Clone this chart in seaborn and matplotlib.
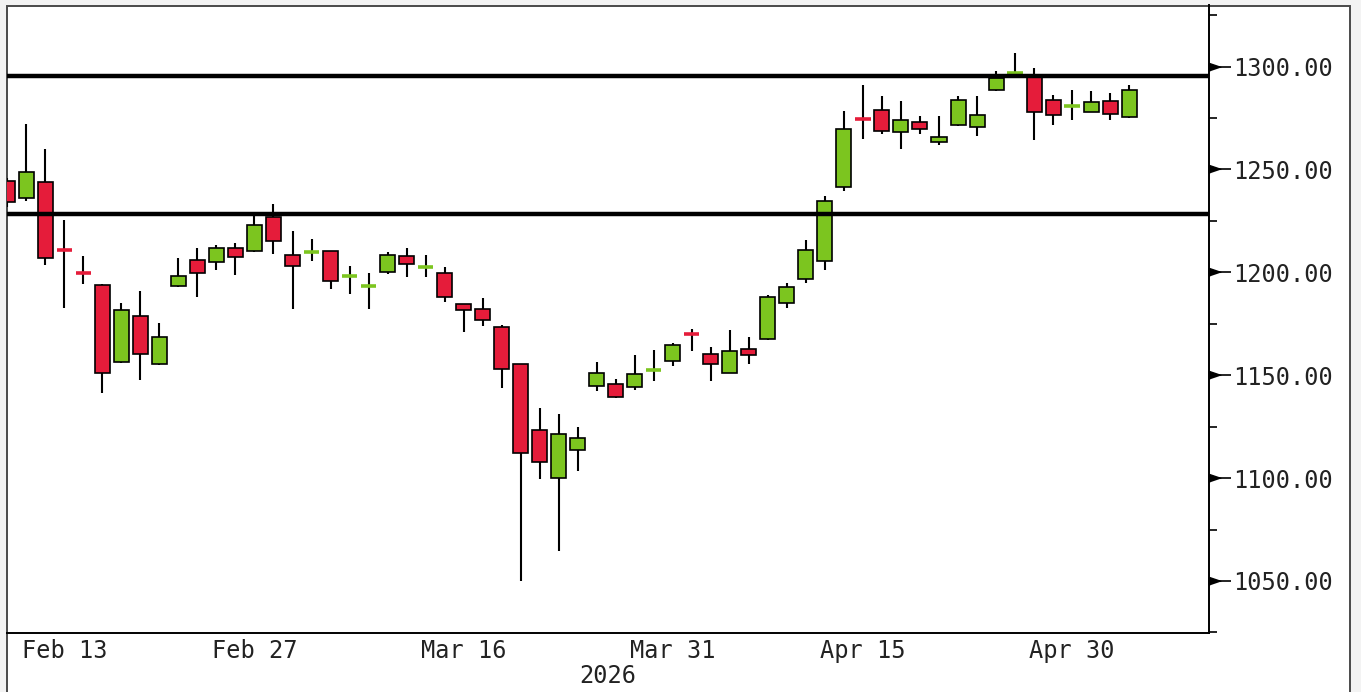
import numpy as np
import pandas as pd
import matplotlib
matplotlib.use("Agg")
import matplotlib.pyplot as plt
import matplotlib.transforms as mtransforms
from matplotlib.patches import Rectangle
import seaborn as sns

# daily OHLC (trading days from Feb 10, 2026)
opens = [1244.5, 1236.0, 1243.7, 1211.0, 1200.0, 1194.0, 1156.4, 1179.0, 1155.4, 1193.6,
         1206.1, 1205.0, 1211.8, 1210.2, 1226.9, 1208.6, 1209.5, 1210.2, 1197.8, 1193.3,
         1200.0, 1207.7, 1202.2, 1199.7, 1184.7, 1182.3, 1173.4, 1155.4, 1123.4, 1099.8,
         1113.7, 1144.8, 1145.7, 1144.5, 1152.4, 1156.7, 1170.3, 1160.4, 1151.3, 1162.8,
         1167.7, 1185.2, 1196.7, 1205.3, 1241.3, 1275.0, 1278.8, 1268.2, 1273.1, 1263.4,
         1271.5, 1270.5, 1288.5, 1296.7, 1295.3, 1283.6, 1280.8, 1278.0, 1283.5, 1275.3]
highs = [1246.0, 1272.3, 1260.1, 1225.6, 1207.7, 1194.5, 1185.0, 1190.7, 1175.3, 1207.0,
         1211.8, 1213.4, 1214.3, 1227.2, 1233.2, 1220.2, 1216.2, 1210.5, 1202.9, 1199.7,
         1209.7, 1211.8, 1208.6, 1202.6, 1184.8, 1187.5, 1174.4, 1155.5, 1134.3, 1131.1,
         1124.6, 1156.4, 1148.0, 1159.9, 1162.4, 1165.6, 1172.4, 1163.7, 1172.1, 1168.8,
         1189.0, 1195.0, 1215.9, 1237.3, 1278.3, 1291.2, 1285.6, 1283.1, 1275.8, 1275.8,
         1285.6, 1285.6, 1297.7, 1306.7, 1299.4, 1286.4, 1288.8, 1288.0, 1287.2, 1291.2]
lows = [1232.0, 1234.5, 1203.4, 1182.9, 1194.5, 1141.3, 1156.0, 1147.8, 1155.0, 1192.7,
        1187.8, 1200.9, 1198.5, 1210.0, 1209.0, 1182.3, 1205.3, 1191.9, 1189.6, 1182.2,
        1199.3, 1197.7, 1197.7, 1185.6, 1170.8, 1174.0, 1144.0, 1050.0, 1099.6, 1064.6,
        1103.6, 1142.1, 1139.0, 1142.9, 1147.0, 1154.6, 1161.9, 1147.3, 1151.0, 1155.4,
        1167.0, 1182.8, 1194.8, 1200.9, 1239.3, 1264.8, 1267.3, 1260.0, 1267.4, 1262.1,
        1271.0, 1266.4, 1288.0, 1296.3, 1264.5, 1271.8, 1274.2, 1278.0, 1274.2, 1275.0]
closes = [1234.0, 1249.0, 1207.0, 1210.5, 1199.5, 1151.3, 1181.5, 1160.3, 1168.5, 1198.0,
          1199.7, 1211.8, 1207.4, 1223.2, 1215.0, 1202.9, 1210.0, 1195.6, 1198.2, 1193.7,
          1208.6, 1204.2, 1202.6, 1188.0, 1181.5, 1176.6, 1153.0, 1112.1, 1108.0, 1121.3,
          1119.4, 1151.3, 1139.2, 1150.7, 1152.8, 1164.8, 1169.9, 1155.4, 1162.0, 1159.6,
          1188.1, 1193.0, 1211.0, 1234.8, 1269.8, 1274.5, 1268.9, 1273.9, 1269.7, 1265.6,
          1283.6, 1276.3, 1294.5, 1297.1, 1278.0, 1276.3, 1281.2, 1282.8, 1277.0, 1288.8]

# horizontal levels
levels = [1295.2, 1228.3]

# axis labels
tick_dates = ["2026-02-13", "2026-02-27", "2026-03-16", "2026-03-31", "2026-04-15", "2026-04-30"]
tick_labels = ["Feb 13", "Feb 27", "Mar 16", "Mar 31", "Apr 15", "Apr 30"]
minor_dates = ["2026-02-20", "2026-03-09", "2026-03-23", "2026-04-08", "2026-04-22", "2026-05-08"]
year_label = "2026"
y_major = [1050, 1100, 1150, 1200, 1250, 1300]
y_minor = [1025, 1075, 1125, 1175, 1225, 1275, 1325]

# trading calendar (Good Friday closed)
calendar = pd.bdate_range("2026-02-10", "2026-05-08", freq="C", holidays=["2026-04-03"])
df = pd.DataFrame({"open": opens, "high": highs, "low": lows, "close": closes},
                  index=calendar[:len(opens)])
df["pos"] = np.arange(len(df))

sns.set_style("white")
plt.rcParams["font.family"] = ["DejaVu Sans Mono", "DejaVu Sans"]

RED = "#e51c3a"
GREEN = "#7cc51f"
FS = 17

fig = plt.figure(figsize=(13.61, 6.92), dpi=100, facecolor="#f3f3f3")
W, H = 1361, 692
frame = Rectangle((7.3 / W, -0.02), (1350 - 7.3) / W, 1.02 - 5.5 / H,
                  transform=fig.transFigure, facecolor="white",
                  edgecolor="#4a4a4a", lw=1.4, zorder=-1)
fig.patches.append(frame)

ax = fig.add_axes([7.3 / W, (H - 633) / H, (1209 - 7.3) / W, (633 - 5.5) / H])
ax.set_facecolor("none")

# wicks
ax.vlines(df["pos"], df["low"], df["high"], color="black", lw=1.5, zorder=2)

# bodies
doji = (df["close"] - df["open"]).abs() < 1.5
up = df["close"] >= df["open"]
body = df[~doji]
ax.bar(body["pos"], (body["close"] - body["open"]).abs(),
       bottom=body[["open", "close"]].min(axis=1), width=0.79,
       color=np.where(up[~doji], GREEN, RED), edgecolor="black", lw=1.2, zorder=3)
dj = df[doji]
ax.hlines((dj["open"] + dj["close"]) / 2, dj["pos"] - 0.4, dj["pos"] + 0.4,
          colors=np.where(up[doji], GREEN, RED), lw=2.6, zorder=3)

for lv in levels:
    ax.axhline(lv, color="black", lw=3.2, zorder=4)

ax.set_xlim(0, 63.2)
ax.set_ylim(1024.7, 1329.7)

# x axis: trading-day positions with date labels
cal_pos = {d: i for i, d in enumerate(calendar)}
ax.set_xticks([cal_pos[pd.Timestamp(d)] for d in tick_dates])
ax.set_xticklabels(tick_labels)
ax.set_xticks([cal_pos[pd.Timestamp(d)] for d in minor_dates], minor=True)
ax.tick_params(axis="x", which="both", direction="in", length=3, width=1.3,
               color="black", labelsize=FS, pad=4, labelcolor="#222222")
ax.set_xlabel(year_label, fontsize=FS, labelpad=1, color="#222222")

# y axis on the right
ax.yaxis.tick_right()
ax.set_yticks(y_major)
ax.set_yticklabels([f"{v:.2f}" for v in y_major])
ax.set_yticks(y_minor, minor=True)
ax.tick_params(axis="y", which="major", direction="out", length=16, width=1.2,
               color="black", labelsize=FS, pad=1.5, labelcolor="#222222")
ax.tick_params(axis="y", which="minor", direction="out", length=6, width=1.2, color="black")
tri = [(0, -0.34), (0, 0.34), (1, 0)]
trans = mtransforms.blended_transform_factory(ax.transAxes, ax.transData)
ax.plot([1] * len(y_major), y_major, linestyle="none", marker=tri, ms=17,
        color="black", transform=trans, clip_on=False, zorder=5)

for side in ["top", "left"]:
    ax.spines[side].set_visible(False)
for side in ["right", "bottom"]:
    ax.spines[side].set_color("black")
    ax.spines[side].set_linewidth(1.4)

fig.savefig("out.png", dpi=100, facecolor=fig.get_facecolor())
